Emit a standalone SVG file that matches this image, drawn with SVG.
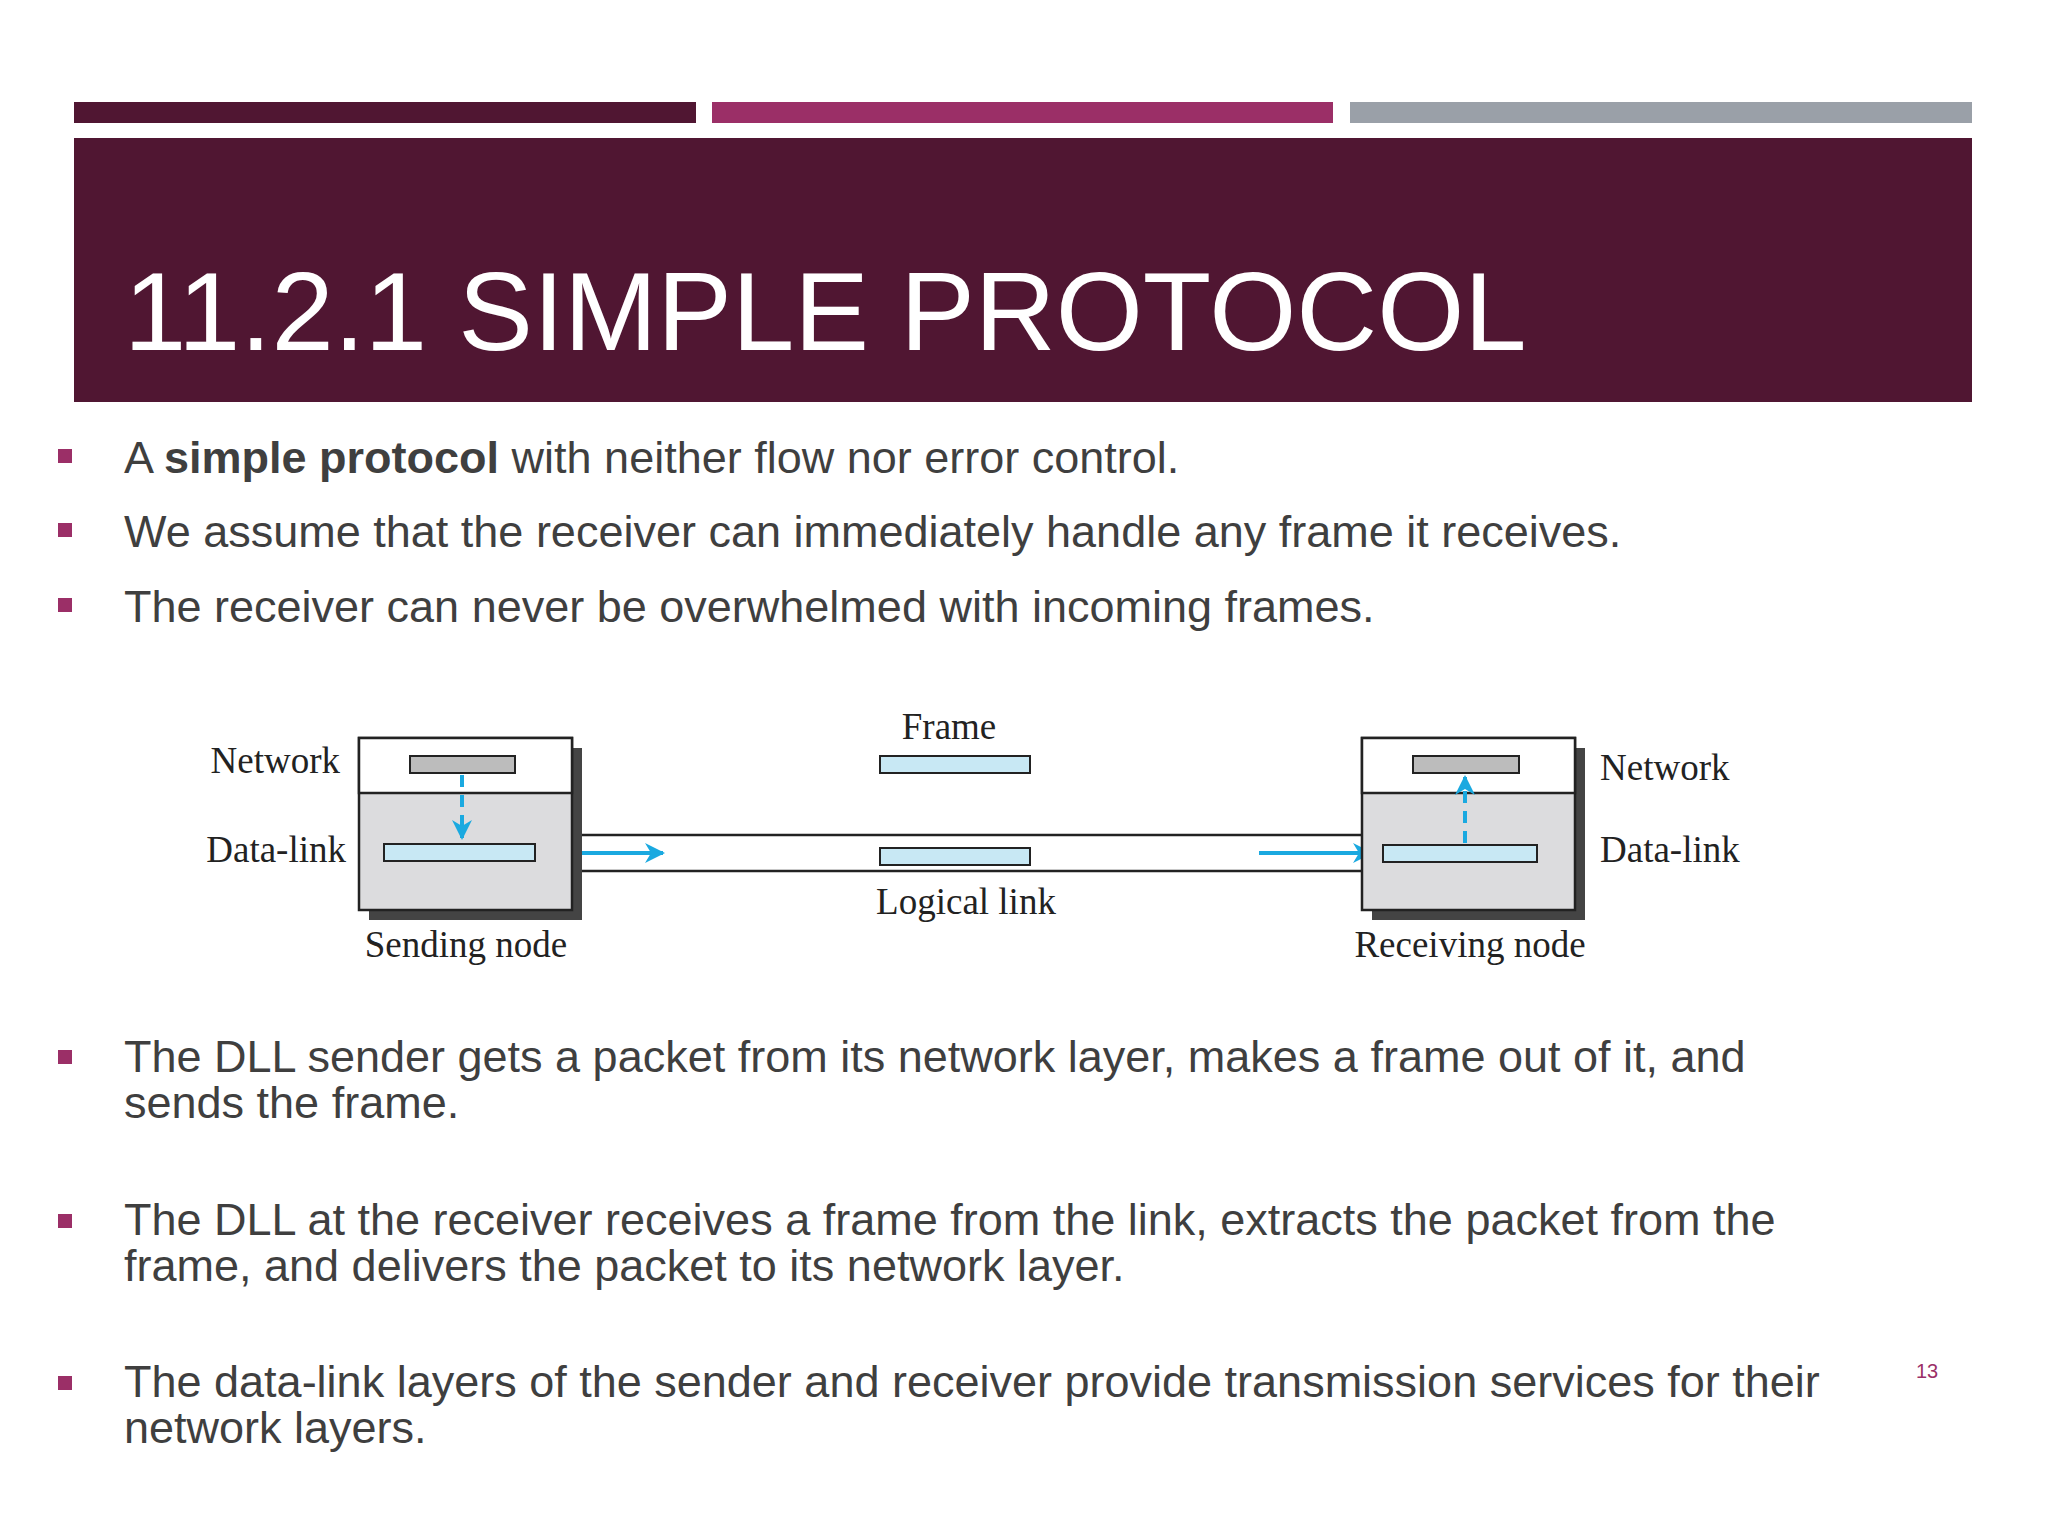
<svg xmlns="http://www.w3.org/2000/svg" width="2048" height="1536" viewBox="0 0 2048 1536">
<style>
.b{font-family:"Liberation Sans",Arial,sans-serif;font-size:45px;fill:#3f3f3f}
.d{font-family:"Liberation Serif","Times New Roman",serif;font-size:37px;fill:#222}
.sq{fill:#9b2f67}
.box{stroke:#222;stroke-width:2.5}
.pk{stroke:#222;stroke-width:2}
.ar{stroke:#1aa9e0;stroke-width:4;fill:none}
</style>
<defs>
<marker id="ah" viewBox="0 0 10 10" refX="9" refY="5" markerWidth="5" markerHeight="5" orient="auto"><path d="M0,0 L10,5 L0,10 L3,5 Z" fill="#1aa9e0"/></marker>
</defs>
<rect width="2048" height="1536" fill="#fff"/>
<rect x="74" y="102" width="622" height="21" fill="#501632"/>
<rect x="712" y="102" width="621" height="21" fill="#9b2f67"/>
<rect x="1350" y="102" width="622" height="21" fill="#9aa0a8"/>
<rect x="74" y="138" width="1898" height="264" fill="#501632"/>
<text x="124" y="350" font-family="'Liberation Sans',Arial,sans-serif" font-size="112" fill="#fff">11.2.1 SIMPLE PROTOCOL</text>
<g id="bullets">
<rect class="sq" x="58" y="449" width="14" height="14"/>
<text class="b" x="124" y="473">A <tspan font-weight="bold">simple protocol</tspan> with neither flow nor error control.</text>
<rect class="sq" x="58" y="523" width="14" height="14"/>
<text class="b" x="124" y="547">We assume that the receiver can immediately handle any frame it receives.</text>
<rect class="sq" x="58" y="598" width="14" height="14"/>
<text class="b" x="124" y="622">The receiver can never be overwhelmed with incoming frames.</text>
<rect class="sq" x="58" y="1050" width="14" height="14"/>
<text class="b" x="124" y="1072">The DLL sender gets a packet from its network layer, makes a frame out of it, and</text>
<text class="b" x="124" y="1118">sends the frame.</text>
<rect class="sq" x="58" y="1214" width="14" height="14"/>
<text class="b" x="124" y="1235">The DLL at the receiver receives a frame from the link, extracts the packet from the</text>
<text class="b" x="124" y="1281">frame, and delivers the packet to its network layer.</text>
<rect class="sq" x="58" y="1376" width="14" height="14"/>
<text class="b" x="124" y="1397">The data-link layers of the sender and receiver provide transmission services for their</text>
<text class="b" x="124" y="1443">network layers.</text>
<text x="1916" y="1378" font-family="'Liberation Sans',Arial,sans-serif" font-size="20" fill="#9b2f67">13</text>
</g>
<g id="connectors">
<line x1="572" y1="835" x2="1362" y2="835" stroke="#222" stroke-width="2.5"/>
<line x1="572" y1="871" x2="1362" y2="871" stroke="#222" stroke-width="2.5"/>
<line class="ar" x1="551" y1="853" x2="663" y2="853" marker-end="url(#ah)"/>
<line class="ar" x1="1259" y1="853" x2="1371" y2="853" marker-end="url(#ah)"/>
</g>
<g id="sending">
<rect x="369" y="748" width="213" height="172" fill="#444"/>
<rect class="box" x="359" y="738" width="213" height="172" fill="#dcdcde"/>
<rect class="box" x="359" y="738" width="213" height="55" fill="#fff"/>
<rect class="pk" x="410" y="756" width="105" height="17" fill="#bcbcbc"/>
<rect class="pk" x="384" y="844" width="151" height="17" fill="#c8e8f4"/>
<line class="ar" x1="462" y1="775" x2="462" y2="838" stroke-dasharray="12,8" marker-end="url(#ah)"/>
<text class="d" x="340" y="773" text-anchor="end">Network</text>
<text class="d" x="346" y="862" text-anchor="end">Data-link</text>
<text class="d" x="466" y="957" text-anchor="middle">Sending node</text>
</g>
<g id="link">
<text class="d" x="949" y="739" text-anchor="middle">Frame</text>
<rect class="pk" x="880" y="756" width="150" height="17" fill="#c8e8f4"/>
<rect class="pk" x="880" y="848" width="150" height="17" fill="#c8e8f4"/>
<text class="d" x="966" y="914" text-anchor="middle">Logical link</text>
</g>
<g id="receiving">
<rect x="1372" y="748" width="213" height="172" fill="#444"/>
<rect class="box" x="1362" y="738" width="213" height="172" fill="#dcdcde"/>
<rect class="box" x="1362" y="738" width="213" height="55" fill="#fff"/>
<rect class="pk" x="1413" y="756" width="106" height="17" fill="#bcbcbc"/>
<rect class="pk" x="1383" y="845" width="154" height="17" fill="#c8e8f4"/>
<line class="ar" x1="1465" y1="843" x2="1465" y2="777" stroke-dasharray="12,8" marker-end="url(#ah)"/>
<text class="d" x="1600" y="780">Network</text>
<text class="d" x="1600" y="862">Data-link</text>
<text class="d" x="1470" y="957" text-anchor="middle">Receiving node</text>
</g>
</svg>
